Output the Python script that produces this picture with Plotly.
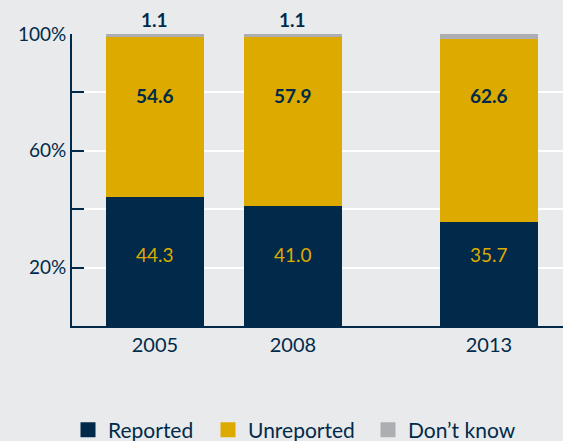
import plotly.graph_objects as go

# Survey results by year (percent of respondents)
years = ["2005", "2008", "2013"]
reported = [44.3, 41.0, 35.7]
unreported = [54.6, 57.9, 62.6]
dont_know = [1.1, 1.1, 1.7]

y_tick_vals = [20, 40, 60, 80, 100]
y_tick_text = ["20%", "", "60%", "", "100%"]

# horizontal slot for each year's bar (wider gap before 2013)
slots = [0, 1, 2.42]

NAVY = "#012a4a"
GOLD = "#ddaa00"
GREY = "#adaeb2"
BG = "#e9eaec"
FONT = "Lato"

series = [("Reported", reported, NAVY),
          ("Unreported", unreported, GOLD),
          ("Don’t know", dont_know, GREY)]

# left edge (px) of each legend key
legend_left = [68, 208, 368]
legend_ids = ["legend", "legend2", "legend3"]

fig = go.Figure()
for name, vals, col in series:
    fig.add_trace(go.Bar(x=slots, y=vals, name=name, marker_color=col,
                         marker_line_width=0, width=0.71, hoverinfo="skip",
                         showlegend=False))
# legend keys drawn as square markers, one legend box per key
for (name, vals, col), lid in zip(series, legend_ids):
    fig.add_trace(go.Scatter(x=[None], y=[None], mode="markers", name=name,
                             marker=dict(symbol="square", size=15, color=col),
                             showlegend=True, legend=lid))

annotations = []
for i, s in enumerate(slots):
    annotations.append(dict(x=s, y=24.4, text=f"{reported[i]:.1f}", showarrow=False,
                            font=dict(family=FONT, size=19, color=GOLD)))
    annotations.append(dict(x=s, y=79, text=f"<b>{unreported[i]:.1f}</b>", showarrow=False,
                            font=dict(family=FONT, size=19, color=NAVY)))
    annotations.append(dict(x=s, y=reported[i] + unreported[i] + dont_know[i],
                            yanchor="bottom", yshift=1,
                            text=f"<b>{dont_know[i]:.1f}</b>", showarrow=False,
                            font=dict(family=FONT, size=19, color=NAVY)))

legend_style = dict(orientation="h", xref="container", yref="container",
                    xanchor="left", y=0.025, yanchor="middle",
                    font=dict(family=FONT, size=21, color=NAVY),
                    itemsizing="trace", itemwidth=30,
                    bgcolor="rgba(0,0,0,0)")

fig.update_layout(
    width=563, height=441,
    barmode="stack",
    margin=dict(l=72, r=0, t=34, b=115),
    paper_bgcolor=BG, plot_bgcolor=BG,
    font=dict(family=FONT, color=NAVY),
    showlegend=True,
    annotations=annotations,
    xaxis=dict(range=[-0.601, 2.957], tickvals=slots, ticktext=years,
               showgrid=False, zeroline=False, showline=True, linecolor=NAVY,
               linewidth=2, ticks="", tickfont=dict(family=FONT, size=20, color=NAVY),
               fixedrange=True),
    yaxis=dict(range=[0, 100], tickvals=y_tick_vals, ticktext=y_tick_text,
               showgrid=True, gridcolor="white", gridwidth=2,
               zeroline=False, showline=True, linecolor=NAVY, linewidth=2,
               ticks="inside", ticklen=12, tickwidth=2, tickcolor=NAVY,
               tickfont=dict(family=FONT, size=19, color=NAVY),
               fixedrange=True),
)
for lid, left in zip(legend_ids, legend_left):
    fig.update_layout({lid: dict(legend_style, x=left / 563)})

fig.write_html("out.html")
